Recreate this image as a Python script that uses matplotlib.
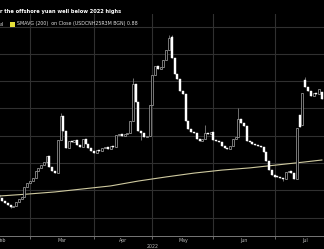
"""Candlestick chart: USDCNH 3M 25-delta risk reversal vs its 200-day average."""

import matplotlib

matplotlib.use("Agg")
import matplotlib.pyplot as plt
import matplotlib.transforms as mtransforms
from matplotlib.patches import Rectangle

# daily candles, trading-day index 0 = mid Feb 2022
opens = [
    0.783, 0.772, 0.761, 0.753, 0.746, 0.739, 0.742, 0.757, 0.768, 0.776,
    0.812, 0.827, 0.834, 0.845, 0.871, 0.882, 0.893, 0.904, 0.926, 0.885,
    0.871, 0.863, 0.984, 1.072, 1.017, 0.955, 0.981, 0.977, 0.984, 0.966,
    0.959, 0.988, 0.970, 0.955, 0.944, 0.937, 0.948, 0.944, 0.955, 0.959,
    0.951, 0.962, 0.959, 1.002, 1.006, 0.999, 1.006, 1.010, 1.054, 1.189,
    1.123, 1.017, 1.010, 0.995, 0.999, 1.112, 1.222, 1.255, 1.244, 1.252,
    1.277, 1.314, 1.361, 1.285, 1.226, 1.208, 1.164, 1.153, 1.054, 1.024,
    1.013, 1.010, 0.988, 0.981, 0.988, 1.010, 1.006, 1.013, 0.984, 0.981,
    0.977, 0.962, 0.955, 0.951, 0.962, 0.988, 0.995, 1.061, 1.046, 1.035,
    0.981, 0.977, 0.970, 0.966, 0.962, 0.959, 0.940, 0.907, 0.874, 0.856,
    0.852, 0.849, 0.845, 0.841, 0.867, 0.871, 0.863, 0.841, 1.076, 1.039,
    1.204, 1.178, 1.164, 1.145, 1.156, 1.153, 1.160,
]
closes = [
    0.772, 0.761, 0.753, 0.746, 0.739, 0.742, 0.757, 0.768, 0.776, 0.812,
    0.827, 0.834, 0.845, 0.871, 0.882, 0.893, 0.904, 0.926, 0.885, 0.871,
    0.863, 0.984, 1.072, 1.017, 0.955, 0.981, 0.977, 0.984, 0.966, 0.959,
    0.988, 0.970, 0.955, 0.944, 0.937, 0.948, 0.944, 0.955, 0.959, 0.951,
    0.962, 0.959, 1.002, 1.006, 0.999, 1.006, 1.010, 1.054, 1.189, 1.123,
    1.017, 1.010, 0.995, 0.999, 1.112, 1.222, 1.255, 1.244, 1.252, 1.277,
    1.314, 1.358, 1.285, 1.226, 1.208, 1.164, 1.153, 1.054, 1.024, 1.013,
    1.010, 0.988, 0.981, 0.988, 1.010, 1.006, 1.013, 0.984, 0.981, 0.977,
    0.962, 0.955, 0.951, 0.962, 0.988, 0.995, 1.061, 1.046, 1.035, 0.981,
    0.977, 0.970, 0.966, 0.962, 0.959, 0.940, 0.907, 0.874, 0.856, 0.849,
    0.849, 0.845, 0.841, 0.867, 0.871, 0.863, 0.841, 1.028, 1.032, 1.156,
    1.178, 1.164, 1.145, 1.156, 1.153, 1.171, 1.134,
]
# visible wicks beyond the bodies
wick_highs = {0: 0.786, 22: 1.083, 48: 1.211, 61: 1.369, 62: 1.369,
              74: 1.039, 86: 1.101, 110: 1.215}
wick_lows = {4: 0.735, 51: 0.984, 102: 0.834}

# 200-day moving average, read at a few points
sma_idx = [0, 10, 20, 30, 40, 50, 60, 70, 80, 90, 100, 110, 116]
sma_vals = [0.779, 0.786, 0.794, 0.805, 0.816, 0.834, 0.849, 0.863,
            0.874, 0.882, 0.893, 0.904, 0.911]

month_labels = ["Feb", "Mar", "Apr", "May", "Jun", "Jul"]
month_bounds = [-9, 11, 34, 55, 77, 99, 121]  # first trading day of each month
year_label = "2022"

title = "r the offshore yuan well below 2022 highs"
legend_text = "SMAVG (200)  on Close (USDCNH25R3M BGN) 0.88"

W, H = 324, 249
fig = plt.figure(figsize=(W / 100, H / 100), dpi=100, facecolor="black")
ax = fig.add_axes([0, 13 / H, 1, (H - 13 - 14) / H], facecolor="black")

# wicks then bodies
for i, (o, c) in enumerate(zip(opens, closes)):
    hi = wick_highs.get(i, max(o, c))
    lo = wick_lows.get(i, min(o, c))
    if hi > lo:
        ax.vlines(i, lo, hi, color="#9a9a9a", lw=0.5, zorder=3)
    bottom = min(o, c)
    height = max(abs(c - o), 0.002)
    if c >= o:
        ax.add_patch(Rectangle((i - 0.36, bottom), 0.72, height, facecolor="black",
                               edgecolor="#a8a8a8", lw=0.5, zorder=4))
    else:
        ax.add_patch(Rectangle((i - 0.36, bottom), 0.72, height, facecolor="white",
                               edgecolor="white", lw=0.3, zorder=4))

ax.plot(sma_idx, sma_vals, color="#cfcaa0", lw=0.8, zorder=2)

ax.set_xlim(0.216, 116.76)
ax.set_ylim(0.6325, 1.446)
ax.set_yticks([0.7, 0.8, 0.9, 1.0, 1.1, 1.2, 1.3, 1.4])
ax.set_xticks(month_bounds[1:-1])
ax.grid(True, color="#303030", lw=0.8, zorder=0)
ax.tick_params(axis="x", length=2, width=0.6, color="#777777", labelbottom=False)
ax.tick_params(axis="y", length=0, labelleft=False)
for side in ["top", "right", "left"]:
    ax.spines[side].set_visible(False)
ax.spines["bottom"].set_color("#777777")
ax.spines["bottom"].set_linewidth(0.7)

trans = mtransforms.blended_transform_factory(ax.transData, fig.transFigure)
for k, lab in enumerate(month_labels):
    mid = (month_bounds[k] + month_bounds[k + 1]) / 2
    ax.text(mid, 1 - 240 / H, lab, transform=trans, ha="center", va="center",
            color="#bbbbbb", fontsize=3.4, clip_on=False)
ax.text(month_bounds[3], 1 - 246 / H, year_label, transform=trans, ha="center",
        va="center", color="#bbbbbb", fontsize=3.4, clip_on=False)

fig.text(0, 1 - 11 / H, title, ha="left", va="center", color="white",
         fontsize=3.7, fontweight="bold")
fig.text(0, 1 - 24 / H, "al", ha="left", va="center", color="#dddddd", fontsize=3.4)
fig.patches.append(Rectangle((10 / W, 1 - 27 / H), 5 / W, 5 / H, facecolor="#e6e03a",
                             edgecolor="none", transform=fig.transFigure, figure=fig))
fig.text(17 / W, 1 - 24 / H, legend_text, ha="left", va="center", color="#dddddd",
         fontsize=3.4)

fig.savefig("out.png", dpi=100, facecolor="black")
